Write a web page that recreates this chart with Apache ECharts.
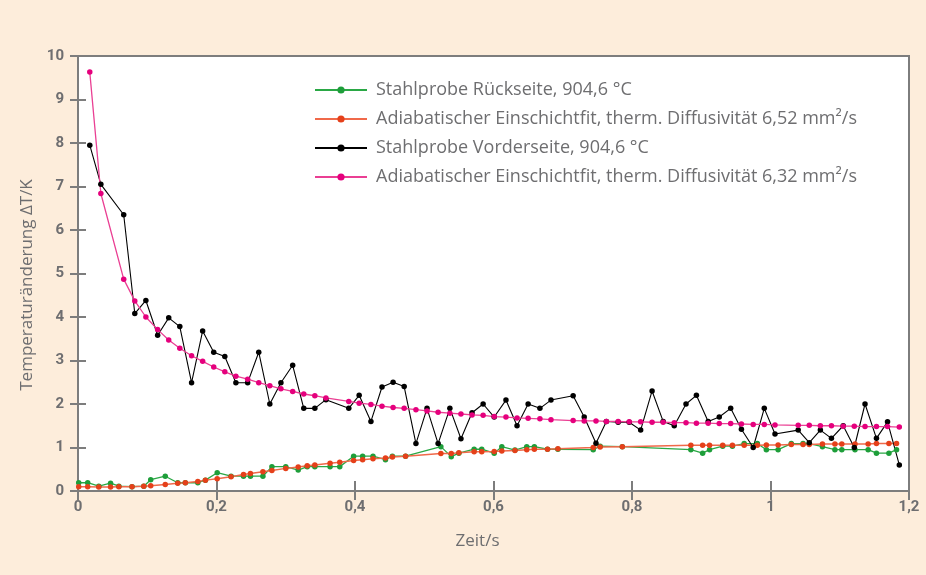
<!DOCTYPE html>
<html>
<head>
<meta charset="utf-8">
<script src="https://cdn.jsdelivr.net/npm/echarts@6/dist/echarts.min.js"></script>
<style>
html,body{margin:0;padding:0;background:#fdeddb;}
#chart{width:926px;height:575px;}
</style>
</head>
<body>
<div id="chart"></div>
<script>
// Rückseite (back side) time values [s]
const tBack = [0.001,0.014,0.030,0.047,0.059,0.078,0.095,0.105,0.126,0.144,
  0.155,0.173,0.184,0.201,0.221,0.239,0.249,0.267,0.280,0.300,
  0.318,0.331,0.342,0.364,0.378,0.398,0.411,0.426,0.444,0.454,
  0.473,0.524,0.539,0.550,0.572,0.583,0.601,0.612,0.631,0.648,
  0.659,0.678,0.693,0.744,0.754,0.786,0.885,0.902,0.912,0.931,
  0.945,0.962,0.981,0.994,1.011,1.030,1.047,1.056,1.075,1.093,
  1.103,1.122,1.141,1.153,1.171,1.182];
const backMeasured = [0.19,0.19,0.11,0.18,0.11,0.10,0.11,0.26,0.34,0.19,
  0.19,0.19,0.25,0.42,0.34,0.34,0.34,0.34,0.56,0.56,
  0.48,0.56,0.56,0.56,0.56,0.80,0.80,0.80,0.72,0.80,
  0.80,1.02,0.79,0.87,0.96,0.96,0.87,1.02,0.94,1.02,
  1.02,0.96,0.96,0.95,1.03,1.02,0.95,0.87,0.95,1.03,
  1.03,1.09,1.09,0.95,0.95,1.09,1.09,1.09,1.02,0.95,
  0.95,0.95,0.95,0.87,0.87,0.95];
const backFit = [0.10,0.10,0.09,0.09,0.10,0.10,0.11,0.12,0.15,0.18,
  0.19,0.22,0.25,0.28,0.33,0.38,0.40,0.44,0.47,0.52,
  0.55,0.58,0.60,0.64,0.66,0.70,0.72,0.74,0.76,0.78,
  0.80,0.86,0.86,0.88,0.90,0.90,0.91,0.92,0.93,0.95,
  0.96,0.96,0.97,1.00,1.01,1.02,1.05,1.05,1.05,1.05,
  1.05,1.05,1.05,1.06,1.06,1.07,1.07,1.07,1.08,1.08,
  1.08,1.08,1.08,1.09,1.09,1.09];

// Vorderseite (front side) time values [s]
const tFront = [0.017,0.033,0.066,0.082,0.098,0.115,0.131,0.147,0.164,0.180,
  0.196,0.212,0.228,0.245,0.261,0.277,0.293,0.310,0.326,0.342,
  0.358,0.391,0.406,0.423,0.439,0.455,0.471,0.488,0.504,0.520,
  0.537,0.553,0.569,0.585,0.601,0.618,0.634,0.650,0.667,0.683,
  0.715,0.731,0.748,0.763,0.780,0.796,0.8125,0.829,0.845,0.861,
  0.878,0.893,0.910,0.926,0.9425,0.958,0.975,0.991,1.0065,1.040,
  1.056,1.072,1.088,1.105,1.121,1.1365,1.153,1.169,1.186];
const frontMeasured = [7.95,7.05,6.35,4.08,4.38,3.58,3.98,3.78,2.49,3.68,
  3.19,3.09,2.49,2.49,3.19,2.00,2.49,2.89,1.90,1.90,
  2.10,1.90,2.20,1.60,2.39,2.50,2.40,1.09,1.90,1.09,
  1.90,1.20,1.80,2.00,1.70,2.09,1.50,2.00,1.90,2.09,
  2.19,1.70,1.10,1.60,1.58,1.58,1.40,2.30,1.60,1.50,
  2.00,2.20,1.60,1.70,1.90,1.42,1.00,1.90,1.31,1.40,
  1.11,1.40,1.21,1.50,1.00,2.00,1.21,1.59,0.60];
const frontFit = [9.63,6.84,4.87,4.37,4.00,3.71,3.47,3.28,3.11,2.98,
  2.85,2.74,2.64,2.57,2.49,2.42,2.35,2.29,2.23,2.19,
  2.14,2.06,2.02,1.99,1.95,1.92,1.90,1.87,1.84,1.81,
  1.79,1.77,1.75,1.74,1.71,1.70,1.68,1.67,1.66,1.64,
  1.62,1.61,1.61,1.60,1.60,1.59,1.59,1.58,1.58,1.57,
  1.57,1.56,1.56,1.55,1.55,1.54,1.53,1.53,1.52,1.51,
  1.51,1.50,1.50,1.49,1.49,1.48,1.48,1.48,1.47];

const seriesNames = [
  'Stahlprobe Rückseite, 904,6 °C',
  'Adiabatischer Einschichtfit, therm. Diffusivität 6,52 mm²/s',
  'Stahlprobe Vorderseite, 904,6 °C',
  'Adiabatischer Einschichtfit, therm. Diffusivität 6,32 mm²/s'
];
const xTicks = ['0','0,2','0,4','0,6','0,8','1','1,2'];

function pairs(t, v){ return t.map((x,i)=>[x, v[i]]); }

const gray = '#7d7d7d';
const textGray = '#6e6e70';
const fontFam = '"Open Sans", Roboto, sans-serif';
const tickFont = 'Roboto, "DejaVu Sans", sans-serif';

function mkSeries(name, data, lineColor, dotColor, lw){
  return {
    name: name, type: 'line', data: data,
    symbol: 'circle', symbolSize: 5.5,
    showSymbol: true,
    lineStyle: {color: lineColor, width: lw},
    itemStyle: {color: dotColor},
    emphasis: {disabled: true},
    animation: false
  };
}

const chart = echarts.init(document.getElementById('chart'));
chart.setOption({
  backgroundColor: '#fdeddb',
  animation: false,
  textStyle: {fontFamily: fontFam},
  grid: {left: 78, right: 17, top: 56, bottom: 84, show: true,
         backgroundColor: '#ffffff', borderColor: gray, borderWidth: 2},
  legend: {
    orient: 'vertical', left: 309, top: 76,
    itemWidth: 52, itemHeight: 9, itemGap: 11,
    data: seriesNames,
    textStyle: {color: textGray, fontSize: 18, lineHeight: 18, fontFamily: fontFam,
                padding: [0, 0, 0, 4]},
    selectedMode: false
  },
  xAxis: [{
    type: 'value', min: 0, max: 1.2, interval: 0.2,
    name: 'Zeit/s', nameLocation: 'middle', nameGap: 42,
    nameTextStyle: {color: textGray, fontSize: 17, fontFamily: fontFam, padding: [0, 32, 0, 0]},
    axisLine: {show: true, lineStyle: {color: gray, width: 2}},
    axisTick: {show: true, inside: true, length: 10, lineStyle: {color: gray, width: 2}},
    axisLabel: {color: textGray, fontSize: 15, fontWeight: 'bold', margin: 9, fontFamily: tickFont,
      formatter: function(v){ return xTicks[Math.round(v/0.2)]; }},
    splitLine: {show: false}
  },{
    type: 'value', position: 'top', min: 0, max: 1.2, interval: 0.2,
    axisLine: {show: false},
    axisTick: {show: true, inside: true, length: 9, lineStyle: {color: gray, width: 2}},
    axisLabel: {show: false}, splitLine: {show: false}
  }],
  yAxis: [{
    type: 'value', min: 0, max: 10, interval: 1,
    name: 'Temperaturänderung ΔT/K', nameLocation: 'middle', nameGap: 38,
    nameTextStyle: {color: textGray, fontSize: 17, fontFamily: fontFam, padding: [0, 23, 0, 0]},
    axisLine: {show: true, lineStyle: {color: gray, width: 2}},
    axisTick: {show: true, inside: true, length: 8, lineStyle: {color: gray, width: 2}},
    axisLabel: {color: textGray, fontSize: 15, fontWeight: 'bold', margin: 14, fontFamily: tickFont},
    splitLine: {show: false}
  },{
    type: 'value', position: 'right', min: 0, max: 10, interval: 1,
    axisLine: {show: false},
    axisTick: {show: true, inside: true, length: 8, lineStyle: {color: gray, width: 2}},
    axisLabel: {show: false}, splitLine: {show: false}
  }],
  series: [
    mkSeries(seriesNames[0], pairs(tBack, backMeasured), '#2aa845', '#1e9e3a', 1.3),
    mkSeries(seriesNames[1], pairs(tBack, backFit), '#f0694a', '#e5401a', 1.5),
    mkSeries(seriesNames[2], pairs(tFront, frontMeasured), '#000000', '#000000', 1.1),
    mkSeries(seriesNames[3], pairs(tFront, frontFit), '#ea3f93', '#e5007d', 1.3)
  ]
});
</script>
</body>
</html>
